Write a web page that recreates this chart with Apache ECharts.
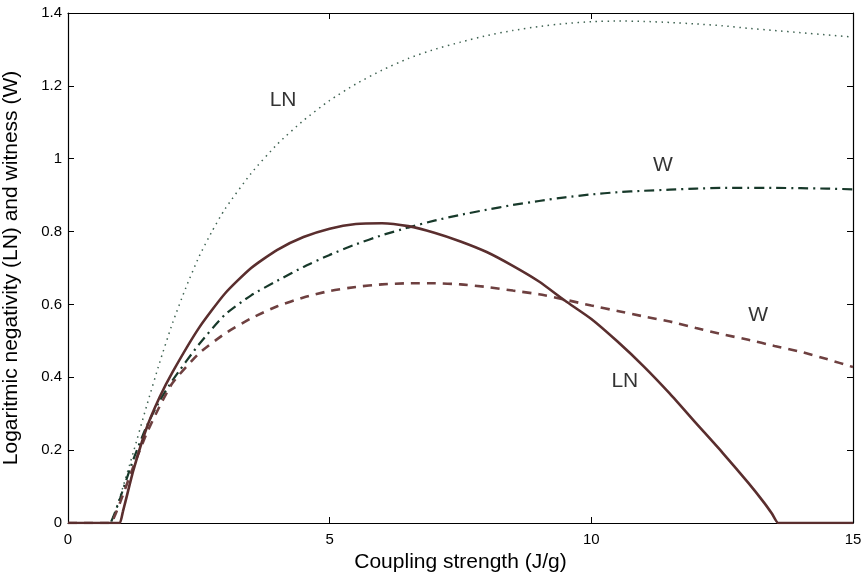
<!DOCTYPE html>
<html>
<head>
<meta charset="utf-8">
<script src="https://cdn.jsdelivr.net/npm/echarts@6/dist/echarts.min.js"></script>
<style>html,body{margin:0;padding:0;background:#fff}#c{width:866px;height:579px}</style>
</head>
<body>
<div id="c"></div>
<script>
// LN (solid, brown)
const lnSolidX = [0, 0.5, 0.8, 0.93, 0.99, 1.05, 1.1, 1.25, 1.5, 1.75, 2.0, 2.5, 3.0, 3.5, 4.0, 4.5, 5.0, 5.5, 6.0, 6.5, 7.0, 7.5, 8.0, 8.5, 9.0, 9.5, 10.0, 10.5, 11.0, 11.5, 12.0, 12.5, 13.0, 13.3, 13.45, 13.57, 13.65, 14.2, 15];
const lnSolidY = [0, 0, 0, 0, 0, 0.032, 0.06, 0.145, 0.26, 0.345, 0.415, 0.535, 0.63, 0.70, 0.75, 0.785, 0.808, 0.821, 0.823, 0.815, 0.797, 0.773, 0.744, 0.706, 0.663, 0.61, 0.56, 0.498, 0.43, 0.355, 0.274, 0.194, 0.11, 0.056, 0.026, 0, 0, 0, 0];
// W (dashed, brown)
const wDashX = [0, 0.4, 0.7, 0.77, 0.82, 0.9, 1.0, 1.25, 1.5, 1.75, 2.0, 2.5, 3.0, 3.5, 4.0, 4.5, 5.0, 5.5, 6.0, 6.5, 7.0, 7.5, 8.0, 8.5, 9.0, 9.5, 10.0, 10.5, 11.0, 11.5, 12.0, 12.5, 13.0, 13.5, 14.0, 14.5, 15];
const wDashY = [0, 0, 0, 0, 0, 0.022, 0.058, 0.155, 0.245, 0.32, 0.385, 0.465, 0.52, 0.562, 0.595, 0.619, 0.637, 0.648, 0.655, 0.658, 0.658, 0.655, 0.648, 0.638, 0.628, 0.613, 0.597, 0.582, 0.567, 0.553, 0.535, 0.518, 0.503, 0.486, 0.47, 0.45, 0.428];
// W (dash-dot, green)
const wDotDashX = [0, 0.4, 0.7, 0.75, 0.8, 0.9, 1.0, 1.25, 1.5, 1.75, 2.0, 2.5, 3.0, 3.5, 4.0, 4.5, 5.0, 5.5, 6.0, 6.5, 7.0, 7.5, 8.0, 8.5, 9.0, 9.5, 10.0, 10.5, 11.0, 11.5, 12.0, 12.5, 13.0, 13.5, 14.0, 14.5, 15];
const wDotDashY = [0, 0, 0, 0, 0, 0.03, 0.07, 0.175, 0.265, 0.335, 0.392, 0.49, 0.572, 0.625, 0.665, 0.703, 0.736, 0.765, 0.79, 0.811, 0.83, 0.846, 0.86, 0.873, 0.884, 0.894, 0.902, 0.908, 0.912, 0.915, 0.918, 0.92, 0.92, 0.92, 0.919, 0.918, 0.916];
// LN (dotted, green)
const lnDotX = [0, 0.4, 0.7, 0.75, 0.8, 0.9, 1.0, 1.25, 1.5, 1.75, 2.0, 2.25, 2.5, 2.75, 3.0, 3.5, 4.0, 4.5, 5.0, 5.5, 6.0, 6.5, 7.0, 7.5, 8.0, 8.5, 9.0, 9.5, 10.0, 10.5, 11.0, 11.5, 12.0, 12.5, 13.0, 13.5, 14.0, 14.5, 15];
const lnDotY = [0, 0, 0, 0, 0, 0.03, 0.075, 0.195, 0.32, 0.44, 0.55, 0.645, 0.73, 0.80, 0.862, 0.96, 1.04, 1.105, 1.16, 1.205, 1.243, 1.275, 1.30, 1.32, 1.338, 1.352, 1.363, 1.371, 1.376, 1.378, 1.377, 1.374, 1.37, 1.365, 1.358, 1.352, 1.346, 1.34, 1.334];
// annotations
const annText = ['LN', 'W', 'W', 'LN'];
const annX = [4.11, 11.37, 13.19, 10.64];
const annY = [1.161, 0.983, 0.571, 0.388];
// ticks
const xTicks = [0, 5, 10, 15];
const yTicks = [0, 0.2, 0.4, 0.6, 0.8, 1, 1.2, 1.4];

const FONT = 'Liberation Sans, Arial, Helvetica, sans-serif';
const zip = (xs, ys) => xs.map((x, i) => [x, ys[i]]);

const chart = echarts.init(document.getElementById('c'), null, {renderer: 'canvas'});
const axisCommon = {
  type: 'value',
  axisLine: {show: true, onZero: false, lineStyle: {color: '#000', width: 1.2}},
  axisTick: {show: true, inside: true, length: 6, lineStyle: {color: '#000', width: 1}},
  splitLine: {show: false},
  axisPointer: {show: false}
};
chart.setOption({
  animation: false,
  backgroundColor: '#fff',
  grid: {left: 68, right: 13, top: 13, bottom: 56, containLabel: false, outerBoundsMode: 'none'},
  xAxis: [
    Object.assign({}, axisCommon, {
      position: 'bottom', min: xTicks[0], max: xTicks[xTicks.length - 1], interval: 5,
      axisLabel: {show: true, color: '#000', fontSize: 15, fontFamily: FONT, margin: 9},
      name: 'Coupling strength (J/g)', nameLocation: 'middle', nameGap: 27,
      nameTextStyle: {color: '#000', fontSize: 21, fontFamily: FONT}
    }),
    Object.assign({}, axisCommon, {
      position: 'top', min: xTicks[0], max: xTicks[xTicks.length - 1], interval: 5,
      axisLabel: {show: false}
    })
  ],
  yAxis: [
    Object.assign({}, axisCommon, {
      position: 'left', min: yTicks[0], max: yTicks[yTicks.length - 1], interval: 0.2,
      axisLabel: {show: true, color: '#000', fontSize: 15, fontFamily: FONT, margin: 6,
        formatter: v => String(Math.round(v * 10) / 10)},
      name: 'Logaritmic negativity (LN) and witness (W)', nameLocation: 'middle', nameGap: 46,
      nameTextStyle: {color: '#000', fontSize: 21, fontFamily: FONT}
    }),
    Object.assign({}, axisCommon, {
      position: 'right', min: yTicks[0], max: yTicks[yTicks.length - 1], interval: 0.2,
      axisLabel: {show: false}
    })
  ],
  series: [
    {
      name: 'LN dotted', type: 'line', data: zip(lnDotX, lnDotY), showSymbol: false, symbol: 'none',
      smooth: 0.2, clip: true,
      lineStyle: {color: '#3f6352', width: 1.5, type: [1.5, 4.5]}
    },
    {
      name: 'W dashdot', type: 'line', data: zip(wDotDashX, wDotDashY), showSymbol: false, symbol: 'none',
      smooth: 0.2, clip: true,
      lineStyle: {color: '#17392a', width: 2.2, type: [10, 5, 2, 5]}
    },
    {
      name: 'W dashed', type: 'line', data: zip(wDashX, wDashY), showSymbol: false, symbol: 'none',
      smooth: 0.2, clip: true,
      lineStyle: {color: '#6e4040', width: 2.6, type: [9, 7]}
    },
    {
      name: 'LN solid', type: 'line', data: zip(lnSolidX, lnSolidY), showSymbol: false, symbol: 'none',
      smooth: 0.2, clip: true,
      lineStyle: {color: '#5a2e2e', width: 2.6, type: 'solid'}
    },
    {
      name: 'labels', type: 'scatter', symbol: 'circle', symbolSize: 1,
      itemStyle: {color: 'rgba(255,255,255,0)'}, silent: true, z: 10,
      data: annText.map((t, i) => ({name: t, value: [annX[i], annY[i]]})),
      label: {show: true, position: 'inside', formatter: p => p.name, color: '#000',
        textBorderWidth: 0, textBorderColor: 'transparent',
        fontSize: 21, fontFamily: FONT}
    }
  ]
});
</script>
</body>
</html>
